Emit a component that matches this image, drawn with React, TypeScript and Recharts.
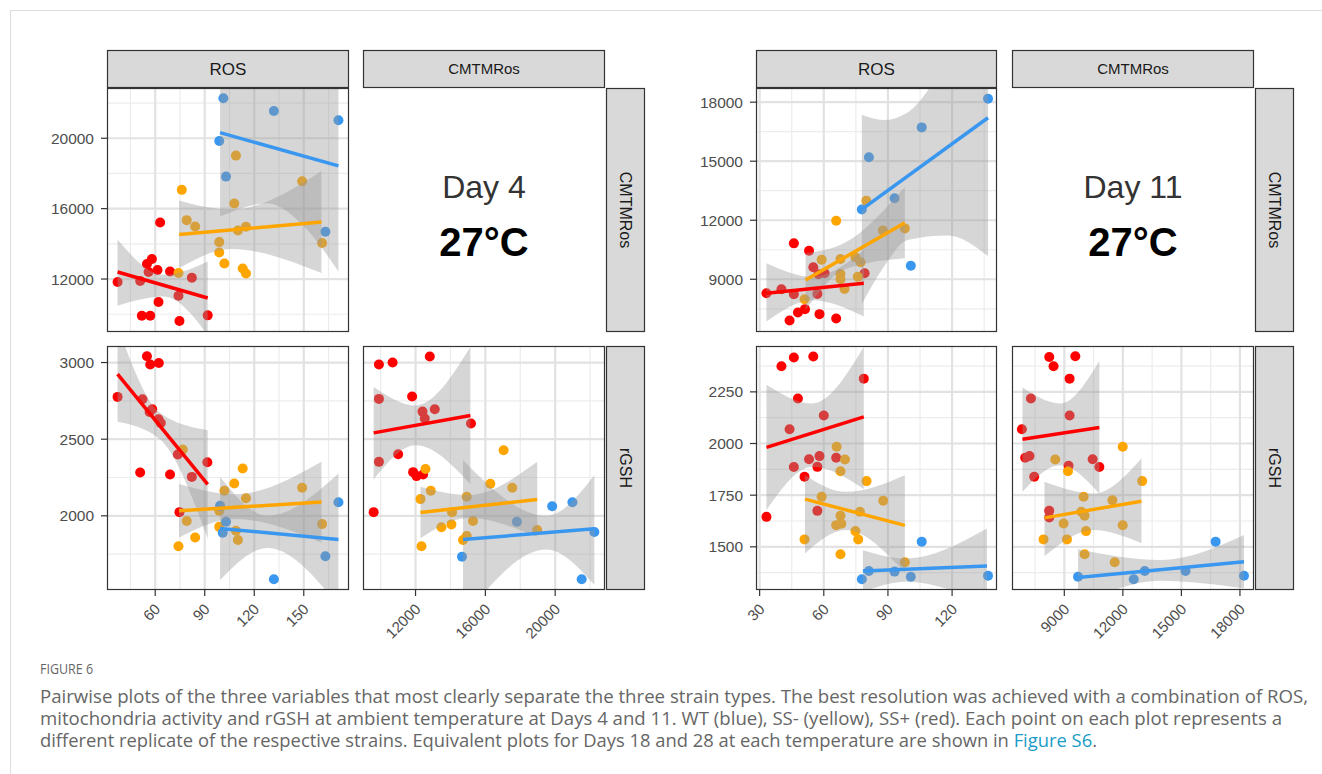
import React from "react";
import {
  ComposedChart,
  Scatter,
  Line,
  Area,
  XAxis,
  YAxis,
  ReferenceLine,
} from "recharts";

const WT_COL = "#3A97F0";
const SSM_COL = "#FFA500";
const SSP_COL = "#FF0000";
const FONT = "'Liberation Sans', Arial, sans-serif";

type Pt = [number, number];
type Bd = [number, number, number];

// ---------- axis breaks / domains
const ros4Domain = [30.8, 177.4];
const ros4Ticks = [60, 90, 120, 150];
const ros4Minor = [45, 75, 105, 135, 165];
const cmt4Domain = [8990, 22855];
const cmt4Ticks = [12000, 16000, 20000];
const cmt4Minor = [10000, 14000, 18000, 22000];
const gsh4Domain = [1516, 3108];
const gsh4Ticks = [2000, 2500, 3000];
const gsh4Minor = [1750, 2250, 2750];

const ros11Domain = [28.3, 141];
const ros11Ticks = [30, 60, 90, 120];
const ros11Minor = [45, 75, 105, 135];
const cmt11Domain = [6320, 18720];
const cmt11Ticks = [9000, 12000, 15000, 18000];
const cmt11Minor = [7500, 10500, 13500, 16500];
const gsh11Domain = [1291, 2472];
const gsh11Ticks = [1500, 1750, 2000, 2250];
const gsh11Minor = [1375, 1625, 1875, 2125, 2375];

// ---------- Day 4 : ROS (x) vs CMTMRos (y)
const d4RcWT: Pt[] = [[101.3, 22270], [131.9, 21549], [171, 21021], [98.8, 19847], [102.9, 17821], [163.1, 14683]];
const d4RcWTFit: Pt[] = [[99.3, 20318], [171, 18428]];
const d4RcWTBand: Bd[] = [[99.3, 15552, 25084], [128, 16300, 23100], [150, 15000, 23100], [171, 12431, 24425]];
const d4RcSSm: Pt[] = [[76.1, 17067], [108.9, 19013], [149, 17560], [107.9, 16290], [79.1, 15347], [84.2, 14984], [110.1, 14757], [115, 14967], [98.8, 14099], [98.8, 13509], [101.9, 12885], [113, 12601], [115, 12317], [74.1, 12340], [161.1, 14043]];
const d4RcSSmFit: Pt[] = [[74.5, 14530], [160.7, 15234]];
const d4RcSSmBand: Bd[] = [[74.5, 12624, 16442], [106, 13700, 15950], [160.7, 12340, 18145]];
const d4RcSSp: Pt[] = [[37.2, 11829], [50.9, 11886], [55, 12851], [58, 13134], [56, 12397], [61.4, 12510], [63, 15211], [69, 12431], [74.1, 11052], [82.2, 12073], [62, 10695], [51.9, 9917], [57, 9917], [74.7, 9617], [91.8, 9935]];
const d4RcSSpFit: Pt[] = [[37.2, 12397], [91.8, 10922]];
const d4RcSSpBand: Bd[] = [[37.2, 10486, 14230], [65, 11013, 12244], [91.8, 8844, 13000]];

// ---------- Day 4 : ROS (x) vs rGSH (y)
const d4RgSSp: Pt[] = [[55, 3041], [57, 2987], [62.2, 2997], [37.2, 2776], [52.3, 2761], [58.2, 2695], [56.6, 2678], [62, 2630], [63.4, 2606], [73.7, 2400], [91.6, 2350], [50.9, 2283], [69, 2270], [82.2, 2254], [74.7, 2024]];
const d4RgSSpFit: Pt[] = [[37.2, 2924], [91.8, 2205]];
const d4RgSSpBand: Bd[] = [[37.2, 2613, 3235], [63, 2498, 2671], [91.8, 1851, 2559]];
const d4RgSSm: Pt[] = [[76.7, 2433], [113, 2309], [107.9, 2211], [101.9, 2163], [115, 2115], [149, 2183], [98.8, 2033], [79.1, 1966], [98.8, 1928], [108.9, 1902], [110.1, 1842], [84.2, 1859], [74.1, 1801], [161.1, 1946]];
const d4RgSSmFit: Pt[] = [[74.5, 2033], [160.7, 2090]];
const d4RgSSmBand: Bd[] = [[74.5, 1859, 2207], [108, 1980, 2140], [160.7, 1824, 2352]];
const d4RgWT: Pt[] = [[99.3, 2065], [102.9, 1961], [100.9, 1889], [171, 2089], [163.1, 1736], [131.9, 1586]];
const d4RgWTFit: Pt[] = [[99.3, 1918], [171, 1846]];
const d4RgWTBand: Bd[] = [[99.3, 1581, 2254], [128, 1790, 2000], [171, 1416, 2276]];

// ---------- Day 4 : CMTMRos (x) vs rGSH (y)
const d4CgSSp: Pt[] = [[9902, 2987], [10685, 3000], [12817, 3039], [9902, 2763], [11805, 2778], [12399, 2680], [13102, 2695], [12531, 2635], [15177, 2602], [9902, 2352], [11005, 2402], [11862, 2285], [12057, 2259], [12434, 2270], [9600, 2024]];
const d4CgSSpFit: Pt[] = [[9600, 2541], [15142, 2654]];
const d4CgSSpBand: Bd[] = [[9600, 2237, 2841], [12000, 2460, 2720], [15142, 2207, 3101]];
const d4CgSSm: Pt[] = [[17045, 2428], [12571, 2306], [12874, 2163], [12285, 2109], [16285, 2209], [17542, 2183], [14931, 2124], [14091, 2024], [13485, 1926], [14056, 1944], [15291, 1966], [14931, 1868], [14720, 1842], [18971, 1907], [12342, 1801]];
const d4CgSSmFit: Pt[] = [[12285, 2022], [18971, 2107]];
const d4CgSSmBand: Bd[] = [[12285, 1853, 2189], [15000, 1985, 2135], [18971, 1863, 2352]];
const d4CgWT: Pt[] = [[19828, 2063], [20988, 2089], [17805, 1961], [22245, 1894], [14662, 1733], [21519, 1586]];
const d4CgWTFit: Pt[] = [[14720, 1846], [22245, 1915]];
const d4CgWTBand: Bd[] = [[14720, 1329, 2363], [19500, 1780, 2000], [22245, 1550, 2265]];

// ---------- Day 11 : ROS (x) vs CMTMRos (y)
const d11RcWT: Pt[] = [[136.8, 18172], [105.8, 16718], [81.1, 15198], [93.1, 13120], [77.8, 12548], [100.7, 9690]];
const d11RcWTFit: Pt[] = [[77.8, 12548], [136.8, 17209]];
const d11RcWTBand: Bd[] = [[77.8, 7740, 17356], [88, 9619, 17089], [99.2, 11000, 17480], [118, 11227, 20221], [136.8, 10177, 24241]];
const d11RcSSm: Pt[] = [[65.8, 11970], [79.9, 12984], [87.6, 11484], [97.9, 11585], [59, 9994], [67.8, 10029], [74.8, 10115], [77.2, 9862], [67.8, 9269], [67.8, 9001], [69.7, 8509], [75.9, 9133], [51, 7988]];
const d11RcSSmFit: Pt[] = [[51.5, 8966], [97.9, 11869]];
const d11RcSSmBand: Bd[] = [[51.5, 7446, 10318], [70.2, 9523, 10876], [97.9, 10065, 13693]];
const d11RcSSp: Pt[] = [[33.2, 8292], [40.2, 8494], [46, 10825], [53.1, 10450], [55.1, 9609], [60.4, 9305], [57.5, 9254], [46, 8241], [57, 8256], [79.1, 9305], [51.2, 7481], [47.9, 7308], [44, 6903], [58, 7227], [65.8, 7005]];
const d11RcSSpFit: Pt[] = [[33.2, 8292], [78.7, 8798]];
const d11RcSSpBand: Bd[] = [[33.2, 6852, 9811], [54.6, 7937, 9118], [78.7, 7111, 10485]];

// ---------- Day 11 : ROS (x) vs rGSH (y)
const d11RgSSp: Pt[] = [[40.2, 2374], [46, 2416], [55.1, 2421], [78.7, 2314], [47.9, 2218], [60, 2136], [44, 2069], [53.1, 1924], [58, 1939], [65.8, 1931], [46, 1886], [57, 1887], [51, 1839], [57, 1674], [33.2, 1645]];
const d11RgSSpFit: Pt[] = [[33.2, 1981], [78.7, 2129]];
const d11RgSSpBand: Bd[] = [[33.2, 1677, 2285], [54.6, 1887, 2194], [78.7, 1780, 2467]];
const d11RgSSm: Pt[] = [[66, 1984], [69.9, 1923], [67.8, 1866], [80, 1818], [59, 1742], [87.8, 1723], [76.9, 1670], [67.8, 1650], [65.8, 1605], [68.2, 1612], [74.8, 1576], [76.1, 1536], [51, 1536], [67.8, 1464], [97.9, 1425]];
const d11RgSSmFit: Pt[] = [[51.2, 1731], [97.9, 1604]];
const d11RgSSmBand: Bd[] = [[51.2, 1468, 1847], [70.2, 1581, 1766], [97.9, 1375, 1847]];
const d11RgWT: Pt[] = [[105.8, 1525], [81.1, 1383], [93.1, 1380], [100.7, 1355], [77.8, 1343], [136.8, 1360]];
const d11RgWTFit: Pt[] = [[78.3, 1383], [136.3, 1407]];
const d11RgWTBand: Bd[] = [[78.3, 1282, 1484], [98.2, 1331, 1444], [136.3, 1225, 1589]];

// ---------- Day 11 : CMTMRos (x) vs rGSH (y)
const d11CgSSp: Pt[] = [[8228, 2419], [8449, 2374], [9564, 2422], [9271, 2314], [7289, 2218], [9271, 2136], [6826, 2069], [6996, 1931], [7217, 1940], [10452, 1924], [10796, 1886], [9219, 1892], [7458, 1839], [8228, 1674], [8228, 1642]];
const d11CgSSpFit: Pt[] = [[6857, 2021], [10796, 2078]];
const d11CgSSpBand: Bd[] = [[6857, 1766, 2271], [8793, 1895, 2194], [10796, 1758, 2400]];
const d11CgSSm: Pt[] = [[11993, 1984], [8537, 1923], [9189, 1866], [12989, 1818], [9990, 1742], [11463, 1725], [9872, 1670], [10041, 1650], [8963, 1613], [11993, 1604], [10113, 1576], [7936, 1536], [9137, 1536], [10041, 1464], [11582, 1425]];
const d11CgSSmFit: Pt[] = [[7987, 1640], [12953, 1721]];
const d11CgSSmBand: Bd[] = [[7987, 1455, 1815], [10503, 1581, 1758], [12953, 1517, 1928]];
const d11CgWT: Pt[] = [[16753, 1525], [9702, 1355], [12557, 1343], [13122, 1383], [15212, 1383], [18206, 1360]];
const d11CgWTFit: Pt[] = [[9702, 1352], [18206, 1428]];
const d11CgWTBand: Bd[] = [[9702, 1216, 1488], [13928, 1336, 1436], [18206, 1299, 1557]];

type Series = { pts: Pt[]; fit: Pt[]; band: Bd[]; color: string };

const mk = (pts: Pt[], fit: Pt[], band: Bd[], color: string): Series => ({ pts, fit, band, color });

const RotTick = (props: any) => {
  const { x, y, payload } = props;
  const ax = x + 6;
  return (
    <text
      x={ax}
      y={y}
      transform={`rotate(-45 ${ax} ${y})`}
      textAnchor="end"
      fill="#4d4d4d"
      fontSize={15}
      fontFamily={FONT}
    >
      {payload.value}
    </text>
  );
};

type PanelProps = {
  left: number;
  top: number;
  w: number;
  h: number;
  xDom: number[];
  yDom: number[];
  xTicks: number[];
  xMinor: number[];
  yTicks: number[];
  yMinor: number[];
  showX?: boolean;
  showY?: boolean;
  series: Series[];
};

const Panel = ({ left, top, w, h, xDom, yDom, xTicks, xMinor, yTicks, yMinor, showX, showY, series }: PanelProps) => {
  const padL = showY ? 70 : 0;
  const padB = showX ? 60 : 0;
  return (
    <div style={{ position: "absolute", left: left - padL, top }}>
      <ComposedChart width={w + padL} height={h + padB} margin={{ top: 0, right: 0, bottom: 0, left: 0 }}>
        <XAxis
          type="number"
          dataKey="x"
          domain={xDom}
          ticks={xTicks}
          interval={0}
          allowDataOverflow
          hide={!showX}
          height={padB}
          axisLine={false}
          tickSize={6}
          tickMargin={14}
          tickLine={{ stroke: "#333", strokeWidth: 1.2 }}
          tick={RotTick}
        />
        <YAxis
          type="number"
          domain={yDom}
          ticks={yTicks}
          interval={0}
          allowDataOverflow
          hide={!showY}
          width={padL}
          axisLine={false}
          tickSize={6}
          tickMargin={7}
          tickLine={{ stroke: "#333", strokeWidth: 1.2 }}
          tick={{ fill: "#4d4d4d", fontSize: 15.5, fontFamily: FONT }}
        />
        {xMinor.map((v) => (
          <ReferenceLine key={"xm" + v} x={v} stroke="#ececec" strokeWidth={1.2} zIndex={-90} />
        ))}
        {yMinor.map((v) => (
          <ReferenceLine key={"ym" + v} y={v} stroke="#ececec" strokeWidth={1.2} zIndex={-90} />
        ))}
        {xTicks.map((v) => (
          <ReferenceLine key={"xM" + v} x={v} stroke="#e2e2e2" strokeWidth={2.2} zIndex={-80} />
        ))}
        {yTicks.map((v) => (
          <ReferenceLine key={"yM" + v} y={v} stroke="#e2e2e2" strokeWidth={2.2} zIndex={-80} />
        ))}
        {series.map((s, i) => (
          <Scatter
            key={"p" + i}
            data={s.pts.map(([x, y]) => ({ x, y }))}
            dataKey="y"
            fill={s.color}
            isAnimationActive={false}
            zIndex={100}
            shape={(p: any) => <circle cx={p.cx} cy={p.cy} r={5} fill={s.color} />}
          />
        ))}
        {series.map((s, i) => (
          <Area
            key={"b" + i}
            data={s.band.map(([x, lo, hi]) => ({ x, band: [lo, hi] }))}
            dataKey="band"
            type="monotone"
            stroke="none"
            fill="#999999"
            fillOpacity={0.4}
            dot={false}
            activeDot={false}
            isAnimationActive={false}
            zIndex={200}
          />
        ))}
        {series.map((s, i) => (
          <Line
            key={"l" + i}
            data={s.fit.map(([x, y]) => ({ x, y }))}
            dataKey="y"
            type="linear"
            stroke={s.color}
            strokeWidth={3.5}
            dot={false}
            activeDot={false}
            isAnimationActive={false}
            zIndex={300}
          />
        ))}
      </ComposedChart>
    </div>
  );
};

const panelBoxes = [
  { x: 107, y: 88, w: 242, h: 244 },
  { x: 107, y: 346, w: 242, h: 244 },
  { x: 363, y: 346, w: 242, h: 244 },
  { x: 756, y: 88, w: 241, h: 244 },
  { x: 756, y: 346, w: 241, h: 244 },
  { x: 1012, y: 346, w: 242, h: 244 },
];

const topStrips = [
  { x: 107, w: 242, label: "ROS", size: 17 },
  { x: 363, w: 242, label: "CMTMRos", size: 15 },
  { x: 756, w: 241, label: "ROS", size: 17 },
  { x: 1012, w: 242, label: "CMTMRos", size: 15 },
];

const sideStrips = [
  { x: 606, y: 88, label: "CMTMRos" },
  { x: 606, y: 346, label: "rGSH" },
  { x: 1255, y: 88, label: "CMTMRos" },
  { x: 1255, y: 346, label: "rGSH" },
];

const captionLines = [
  "Pairwise plots of the three variables that most clearly separate the three strain types. The best resolution was achieved with a combination of ROS,",
  "mitochondria activity and rGSH at ambient temperature at Days 4 and 11. WT (blue), SS- (yellow), SS+ (red). Each point on each plot represents a",
  "different replicate of the respective strains. Equivalent plots for Days 18 and 28 at each temperature are shown in ",
];

export default function App() {
  return (
    <div
      style={{
        position: "absolute",
        left: 0,
        top: 0,
        width: 1322,
        height: 774,
        background: "#fff",
        overflow: "hidden",
      }}
    >
      <Panel
        left={107} top={88} w={242} h={244}
        xDom={ros4Domain} yDom={cmt4Domain}
        xTicks={ros4Ticks} xMinor={ros4Minor} yTicks={cmt4Ticks} yMinor={cmt4Minor}
        showY
        series={[
          mk(d4RcSSp, d4RcSSpFit, d4RcSSpBand, SSP_COL),
          mk(d4RcSSm, d4RcSSmFit, d4RcSSmBand, SSM_COL),
          mk(d4RcWT, d4RcWTFit, d4RcWTBand, WT_COL),
        ]}
      />
      <Panel
        left={107} top={346} w={242} h={244}
        xDom={ros4Domain} yDom={gsh4Domain}
        xTicks={ros4Ticks} xMinor={ros4Minor} yTicks={gsh4Ticks} yMinor={gsh4Minor}
        showX showY
        series={[
          mk(d4RgSSp, d4RgSSpFit, d4RgSSpBand, SSP_COL),
          mk(d4RgSSm, d4RgSSmFit, d4RgSSmBand, SSM_COL),
          mk(d4RgWT, d4RgWTFit, d4RgWTBand, WT_COL),
        ]}
      />
      <Panel
        left={363} top={346} w={242} h={244}
        xDom={cmt4Domain} yDom={gsh4Domain}
        xTicks={cmt4Ticks} xMinor={cmt4Minor} yTicks={gsh4Ticks} yMinor={gsh4Minor}
        showX
        series={[
          mk(d4CgSSp, d4CgSSpFit, d4CgSSpBand, SSP_COL),
          mk(d4CgSSm, d4CgSSmFit, d4CgSSmBand, SSM_COL),
          mk(d4CgWT, d4CgWTFit, d4CgWTBand, WT_COL),
        ]}
      />
      <Panel
        left={756} top={88} w={241} h={244}
        xDom={ros11Domain} yDom={cmt11Domain}
        xTicks={ros11Ticks} xMinor={ros11Minor} yTicks={cmt11Ticks} yMinor={cmt11Minor}
        showY
        series={[
          mk(d11RcSSp, d11RcSSpFit, d11RcSSpBand, SSP_COL),
          mk(d11RcSSm, d11RcSSmFit, d11RcSSmBand, SSM_COL),
          mk(d11RcWT, d11RcWTFit, d11RcWTBand, WT_COL),
        ]}
      />
      <Panel
        left={756} top={346} w={241} h={244}
        xDom={ros11Domain} yDom={gsh11Domain}
        xTicks={ros11Ticks} xMinor={ros11Minor} yTicks={gsh11Ticks} yMinor={gsh11Minor}
        showX showY
        series={[
          mk(d11RgSSp, d11RgSSpFit, d11RgSSpBand, SSP_COL),
          mk(d11RgSSm, d11RgSSmFit, d11RgSSmBand, SSM_COL),
          mk(d11RgWT, d11RgWTFit, d11RgWTBand, WT_COL),
        ]}
      />
      <Panel
        left={1012} top={346} w={242} h={244}
        xDom={cmt11Domain} yDom={gsh11Domain}
        xTicks={cmt11Ticks} xMinor={cmt11Minor} yTicks={gsh11Ticks} yMinor={gsh11Minor}
        showX
        series={[
          mk(d11CgSSp, d11CgSSpFit, d11CgSSpBand, SSP_COL),
          mk(d11CgSSm, d11CgSSmFit, d11CgSSmBand, SSM_COL),
          mk(d11CgWT, d11CgWTFit, d11CgWTBand, WT_COL),
        ]}
      />

      <svg
        width={1322}
        height={774}
        style={{ position: "absolute", left: 0, top: 0, pointerEvents: "none" }}
      >
        <line x1={10} y1={10.5} x2={1322} y2={10.5} stroke="#dddddd" />
        <line x1={10.5} y1={10} x2={10.5} y2={774} stroke="#dddddd" />

        {panelBoxes.map((b, i) => (
          <rect key={i} x={b.x + 0.5} y={b.y + 0.5} width={b.w - 1} height={b.h - 1} fill="none" stroke="#333" strokeWidth={1.2} />
        ))}

        {topStrips.map((s, i) => (
          <g key={i}>
            <rect x={s.x + 0.5} y={50.5} width={s.w - 1} height={37} fill="#d9d9d9" stroke="#333" strokeWidth={1.2} />
            <text x={s.x + s.w / 2} y={69} dy="0.36em" textAnchor="middle" fontSize={s.size} fontFamily={FONT} fill="#1a1a1a">
              {s.label}
            </text>
          </g>
        ))}

        {sideStrips.map((s, i) => {
          const cx = s.x + 19.5;
          const cy = s.y + 122;
          return (
            <g key={i}>
              <rect x={s.x + 0.5} y={s.y + 0.5} width={38} height={243} fill="#d9d9d9" stroke="#333" strokeWidth={1.2} />
              <text x={cx} y={cy} dy="0.36em" textAnchor="middle" fontSize={16} fontFamily={FONT} fill="#1a1a1a" transform={`rotate(90 ${cx} ${cy})`}>
                {s.label}
              </text>
            </g>
          );
        })}

        <text x={484} y={198} textAnchor="middle" fontSize={32} fontFamily={FONT} fill="#333">Day 4</text>
        <text x={484} y={256} textAnchor="middle" fontSize={40} fontWeight="bold" fontFamily={FONT} fill="#000">27°C</text>
        <text x={1133} y={198} textAnchor="middle" fontSize={32} fontFamily={FONT} fill="#333">Day 11</text>
        <text x={1133} y={256} textAnchor="middle" fontSize={40} fontWeight="bold" fontFamily={FONT} fill="#000">27°C</text>

        <text x={40} y={674} fontSize={15} fontFamily="'Open Sans', sans-serif" fill="#666" textLength={53} lengthAdjust="spacingAndGlyphs">
          FIGURE 6
        </text>
        <text x={40} y={703} fontSize={17.5} fontFamily="'Open Sans', sans-serif" fill="#666" textLength={1268} lengthAdjust="spacingAndGlyphs">
          {captionLines[0]}
        </text>
        <text x={40} y={725} fontSize={17.5} fontFamily="'Open Sans', sans-serif" fill="#666" textLength={1242} lengthAdjust="spacingAndGlyphs">
          {captionLines[1]}
        </text>
        <text x={40} y={747} fontSize={17.5} fontFamily="'Open Sans', sans-serif" fill="#666" textLength={1057} lengthAdjust="spacingAndGlyphs">
          {captionLines[2]}
          <tspan fill="#1a9cc8">Figure S6</tspan>
          <tspan>.</tspan>
        </text>
      </svg>
    </div>
  );
}
